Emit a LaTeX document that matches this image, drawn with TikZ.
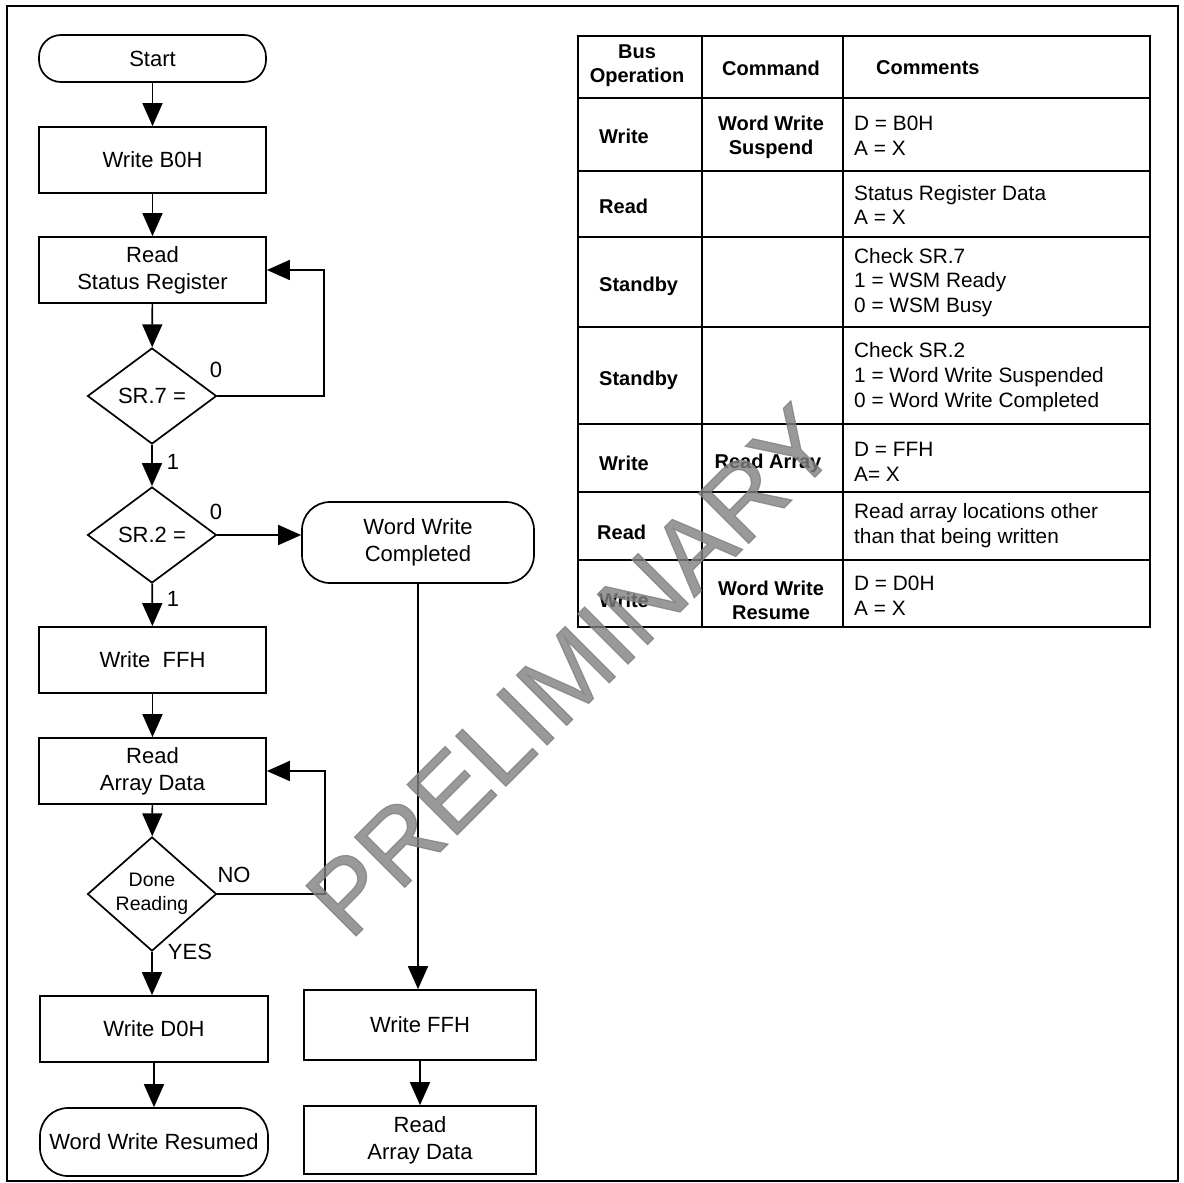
\documentclass[tikz,border=0pt]{standalone}
\usepackage{fontspec}
\setmainfont{Liberation Sans}
\newfontfamily\markfont[FakeBold=1.2]{Liberation Sans}
\usetikzlibrary{shapes.geometric,arrows.meta}
\newcommand{\flowfont}{\fontsize{22}{27}\selectfont}
\newcommand{\smallflowfont}{\fontsize{19.5}{24}\selectfont}
\newcommand{\tabfont}{\fontsize{20.8}{24.8}\selectfont}
\newcommand{\tabbold}{\fontsize{20}{24}\selectfont\bfseries}
\begin{document}
\begin{tikzpicture}[x=1pt,y=-1pt,
  line/.style={line width=1.7pt},
  conn/.style={line width=1.7pt,-{Triangle[width=20pt,length=23pt]}},
  procbox/.style={draw,line width=1.7pt,inner sep=0pt,align=center,font=\flowfont,
                  minimum width=227pt,minimum height=66pt},
  termbox/.style={procbox,rounded corners=#1},
  decision/.style={diamond,draw,line width=1.7pt,inner sep=0pt,align=center,font=\flowfont,
                  minimum width=129pt,minimum height=96pt},
  lbl/.style={font=\flowfont,inner sep=0pt},
  opcell/.style={font=\tabbold,anchor=west,align=left,inner sep=0pt},
  cmdcell/.style={font=\tabbold,align=center,inner sep=0pt},
  txtcell/.style={font=\tabfont,anchor=west,align=left,inner sep=0pt},
  grid/.style={line width=1.7pt},
  watermark/.style={font=\markfont\fontsize{103}{103}\selectfont,text=black!50,opacity=0.8,
                    inner sep=0pt,anchor=base west}
]
\useasboundingbox (0,0) rectangle (1183,1183);

% outer frame
\draw[line] (7,6) rectangle (1178,1181);

% ---------- main flow ----------
\node[termbox=22pt,minimum height=47pt] (start) at (152.5,58.5) {Start};
\node[procbox] (wb0)  at (152.5,160) {Write B0H};
\node[procbox] (rsr)  at (152.5,270) {Read\\Status Register};
\node[decision] (sr7) at (152,396) {SR.7 =};
\node[decision] (sr2) at (152,535) {SR.2 =};
\node[termbox=28pt,minimum width=232pt,minimum height=81pt] (wwc) at (418,542.5) {Word Write\\Completed};
\node[procbox] (wffh) at (152.5,660) {Write\ \ FFH};
\node[procbox] (rad)  at (152.5,771) {Read\\Array Data};
\node[decision,font=\smallflowfont] (done) at (152,894) {Done\\Reading};
\node[procbox,minimum width=228pt] (wd0h) at (154,1029) {Write D0H};
\node[termbox=28pt,minimum width=228pt,minimum height=68pt] (wwr) at (154,1142) {Word Write Resumed};
\node[procbox,minimum width=232pt,minimum height=70pt] (wffh2) at (420,1025) {Write FFH};
\node[procbox,minimum width=232pt,minimum height=68pt] (rad2)  at (420,1140) {Read\\Array Data};

% branch labels
\node[lbl] (l70) at (216,370) {0};
\node[lbl] (l71) at (173,462) {1};
\node[lbl] (l20) at (216,512) {0};
\node[lbl] (l21) at (173,599) {1};
\node[lbl] (lno) at (234,875) {NO};
\node[lbl] (lyes) at (190,952) {YES};

% loop-back corners
\coordinate (fb7) at (324,270);
\coordinate (fbd) at (325,771);

% connectors
\draw[conn] (start) -- (wb0);
\draw[conn] (wb0) -- (rsr);
\draw[conn] (rsr) -- (sr7);
\draw[conn] (sr7.east) -| (fb7) -- (rsr.east);
\draw[conn] (sr7) -- (sr2);
\draw[conn] (sr2.east) -- (sr2.east -| wwc.west);
\draw[conn] (sr2) -- (wffh);
\draw[conn] (wffh) -- (rad);
\draw[conn] (rad) -- (done);
\draw[conn] (done.east) -| (fbd) -- (rad.east);
\draw[conn] (done.south) -- (done.south |- wd0h.north);
\draw[conn] (wd0h) -- (wwr);
\draw[conn] (wwc.south) -- (wwc.south |- wffh2.north);
\draw[conn] (wffh2) -- (rad2);

% ---------- bus operation table ----------
\draw[grid] (578,36) rectangle (1150,627);
\foreach \yy in {98,171,237,327,424,492,560}
  \draw[grid] (578,\yy) -- (1150,\yy);
\draw[grid] (702,36) -- (702,627);
\draw[grid] (843,36) -- (843,627);

% header
\node[cmdcell] (hbus) at (637,66) {Bus\\Operation};
\node[cmdcell] (hcmd) at (771,68) {Command};
\node[opcell]  (hcom) at (876,68) {Comments};

% rows
\node[opcell] (op1) at (599,136) {Write};
\node[cmdcell] (cm1) at (771,137) {Word Write\\Suspend};
\node[txtcell] (tx1) at (854,135.5) {D = B0H\\A = X};

\node[opcell] (op2) at (599,206) {Read};
\node[txtcell] (tx2) at (854,205) {Status Register Data\\A = X};

\node[opcell] (op3) at (599,286) {Standby};
\node[txtcell] (tx3) at (854,282.5) {Check SR.7\\1 = WSM Ready\\0 = WSM Busy};

\node[opcell] (op4) at (599,380) {Standby};
\node[txtcell] (tx4) at (854,377) {Check SR.2\\1 = Word Write Suspended\\0 = Word Write Completed};

\node[opcell] (op5) at (599,463) {Write};
\node[cmdcell] (cm5) at (768,463) {Read Array};
\node[txtcell] (tx5) at (854,461.5) {D = FFH\\A= X};

\node[opcell] (op6) at (597,532) {Read};
\node[txtcell] (tx6) at (854,526) {Read array locations other\\than that being written};

\node[opcell] (op7) at (599,600) {Write};
\node[cmdcell] (cm7) at (771,600) {Word Write\\Resume};
\node[txtcell] (tx7) at (854,596) {D = D0H\\A = X};

% ---------- watermark ----------
\node[watermark,rotate=45] (wm) at (350,942) {PRELIMINARY};

\end{tikzpicture}
\end{document}
